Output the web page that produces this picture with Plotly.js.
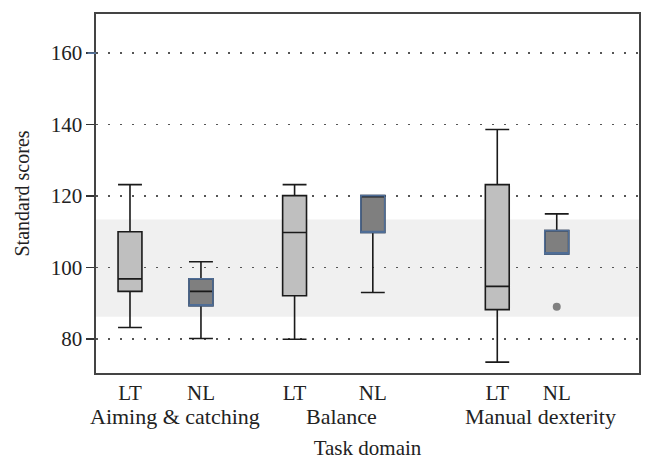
<!DOCTYPE html>
<html>
<head>
<meta charset="utf-8">
<script src="https://cdn.plot.ly/plotly-3.0.1.min.js"></script>
<style>html,body{margin:0;padding:0;background:#fff;}#chart{width:654px;height:468px;}</style>
</head>
<body>
<div id="chart"></div>
<script>
// ---- data ----
const groups = ["LT", "NL", "LT", "NL", "LT", "NL"];
const domains = ["Aiming & catching", "Balance", "Manual dexterity"];

const ltLowerFence = [83.2, 79.9, 73.5];
const ltQ1         = [93.3, 92.1, 88.2];
const ltMedian     = [96.8, 109.8, 94.7];
const ltQ3         = [110.0, 120.1, 123.2];
const ltUpperFence = [123.2, 123.2, 138.6];

const nlLowerFence = [80.1, 93.0, 103.8];
const nlQ1         = [89.3, 109.8, 103.8];
const nlMedian     = [93.3, 120.1, 103.8];
const nlQ3         = [96.8, 120.1, 110.3];
const nlUpperFence = [101.6, 120.1, 115.0];

const outlierDomain = [2];      // index of domain
const outlierValue  = [89.0];

const normalBand = [86.2, 113.4]; // shaded normal range

// ---- layout constants ----
const ltPos = [0.626, 3.657, 7.390];
const nlPos = [1.933, 5.098, 8.485];
const domainLabelPos = [1.449, 4.528, 8.19];

const FONT = "Liberation Serif, Times New Roman, serif";
const TXT = "#222";

const traces = [
  {
    type: "box", name: "LT", x: ltPos,
    q1: ltQ1, median: ltMedian, q3: ltQ3,
    lowerfence: ltLowerFence, upperfence: ltUpperFence,
    width: 0.44, whiskerwidth: 1,
    fillcolor: "#bfbfbf", line: {color: "#1a1a1a", width: 1.6},
    boxpoints: false, hoverinfo: "skip", showlegend: false
  },
  {
    type: "box", name: "NL", x: nlPos,
    q1: nlQ1, median: nlMedian, q3: nlQ3,
    lowerfence: nlLowerFence, upperfence: nlUpperFence,
    width: 0.44, whiskerwidth: 1,
    fillcolor: "#7f7f7f", line: {color: "#1a1a1a", width: 1.6},
    boxpoints: false, hoverinfo: "skip", showlegend: false
  },
  {
    // blue outline of NL boxes
    type: "box", name: "NL outline", x: nlPos,
    q1: nlQ1, median: nlQ1, q3: nlQ3,
    lowerfence: nlQ1, upperfence: nlQ3,
    width: 0.44, whiskerwidth: 0,
    fillcolor: "rgba(0,0,0,0)", line: {color: "#4f6d96", width: 1.6},
    boxpoints: false, hoverinfo: "skip", showlegend: false
  },
  {
    type: "scatter", mode: "markers",
    x: outlierDomain.map(i => nlPos[i]), y: outlierValue,
    marker: {color: "#808080", size: 8},
    hoverinfo: "skip", showlegend: false
  }
];

const annotations = domains.map((d, i) => ({
  text: d, x: domainLabelPos[i], xref: "x",
  y: -0.122, yref: "paper", yanchor: "middle", xanchor: "center",
  showarrow: false, font: {family: FONT, size: 22, color: TXT}
}));

const layout = {
  width: 654, height: 468,
  margin: {l: 96, r: 15, t: 14, b: 95},
  paper_bgcolor: "#fff", plot_bgcolor: "rgba(0,0,0,0)",
  font: {family: FONT, size: 21, color: TXT},
  showlegend: false,
  xaxis: {
    range: [0, 10],
    tickmode: "array",
    tickvals: ltPos.concat(nlPos),
    ticktext: ["LT", "LT", "LT", "NL", "NL", "NL"],
    ticks: "", showgrid: false, zeroline: false,
    showline: true, mirror: true, linecolor: "#444", linewidth: 1.6,
    tickfont: {family: FONT, size: 21, color: TXT},
    title: {text: "Task domain", font: {family: FONT, size: 21, color: TXT}, standoff: 36},
    automargin: false
  },
  yaxis: {
    range: [70.46, 170.95],
    tick0: 0, dtick: 20,
    ticks: "outside", ticklen: 8, tickwidth: 1.5, tickcolor: "#333",
    showgrid: true, gridcolor: "#555", gridwidth: 1.5, griddash: "1.5px,10.5px",
    zeroline: false,
    showline: true, mirror: true, linecolor: "#444", linewidth: 1.6,
    tickfont: {family: FONT, size: 21, color: TXT},
    title: {text: "Standard scores", font: {family: FONT, size: 20, color: TXT}, standoff: 16},
    automargin: false
  },
  shapes: [
    {type: "rect", xref: "paper", yref: "y", x0: 0, x1: 1, y0: normalBand[0], y1: normalBand[1],
     fillcolor: "#f0f0f0", line: {width: 0}, layer: "below"},
    {type: "line", xref: "paper", yref: "y", x0: -0.0155, x1: 0, y0: 160, y1: 160,
     line: {color: "#5b7fb0", width: 1.5}, layer: "above"}
  ],
  annotations: annotations
};

Plotly.newPlot("chart", traces, layout, {staticPlot: true, displayModeBar: false});
</script>
</body>
</html>
